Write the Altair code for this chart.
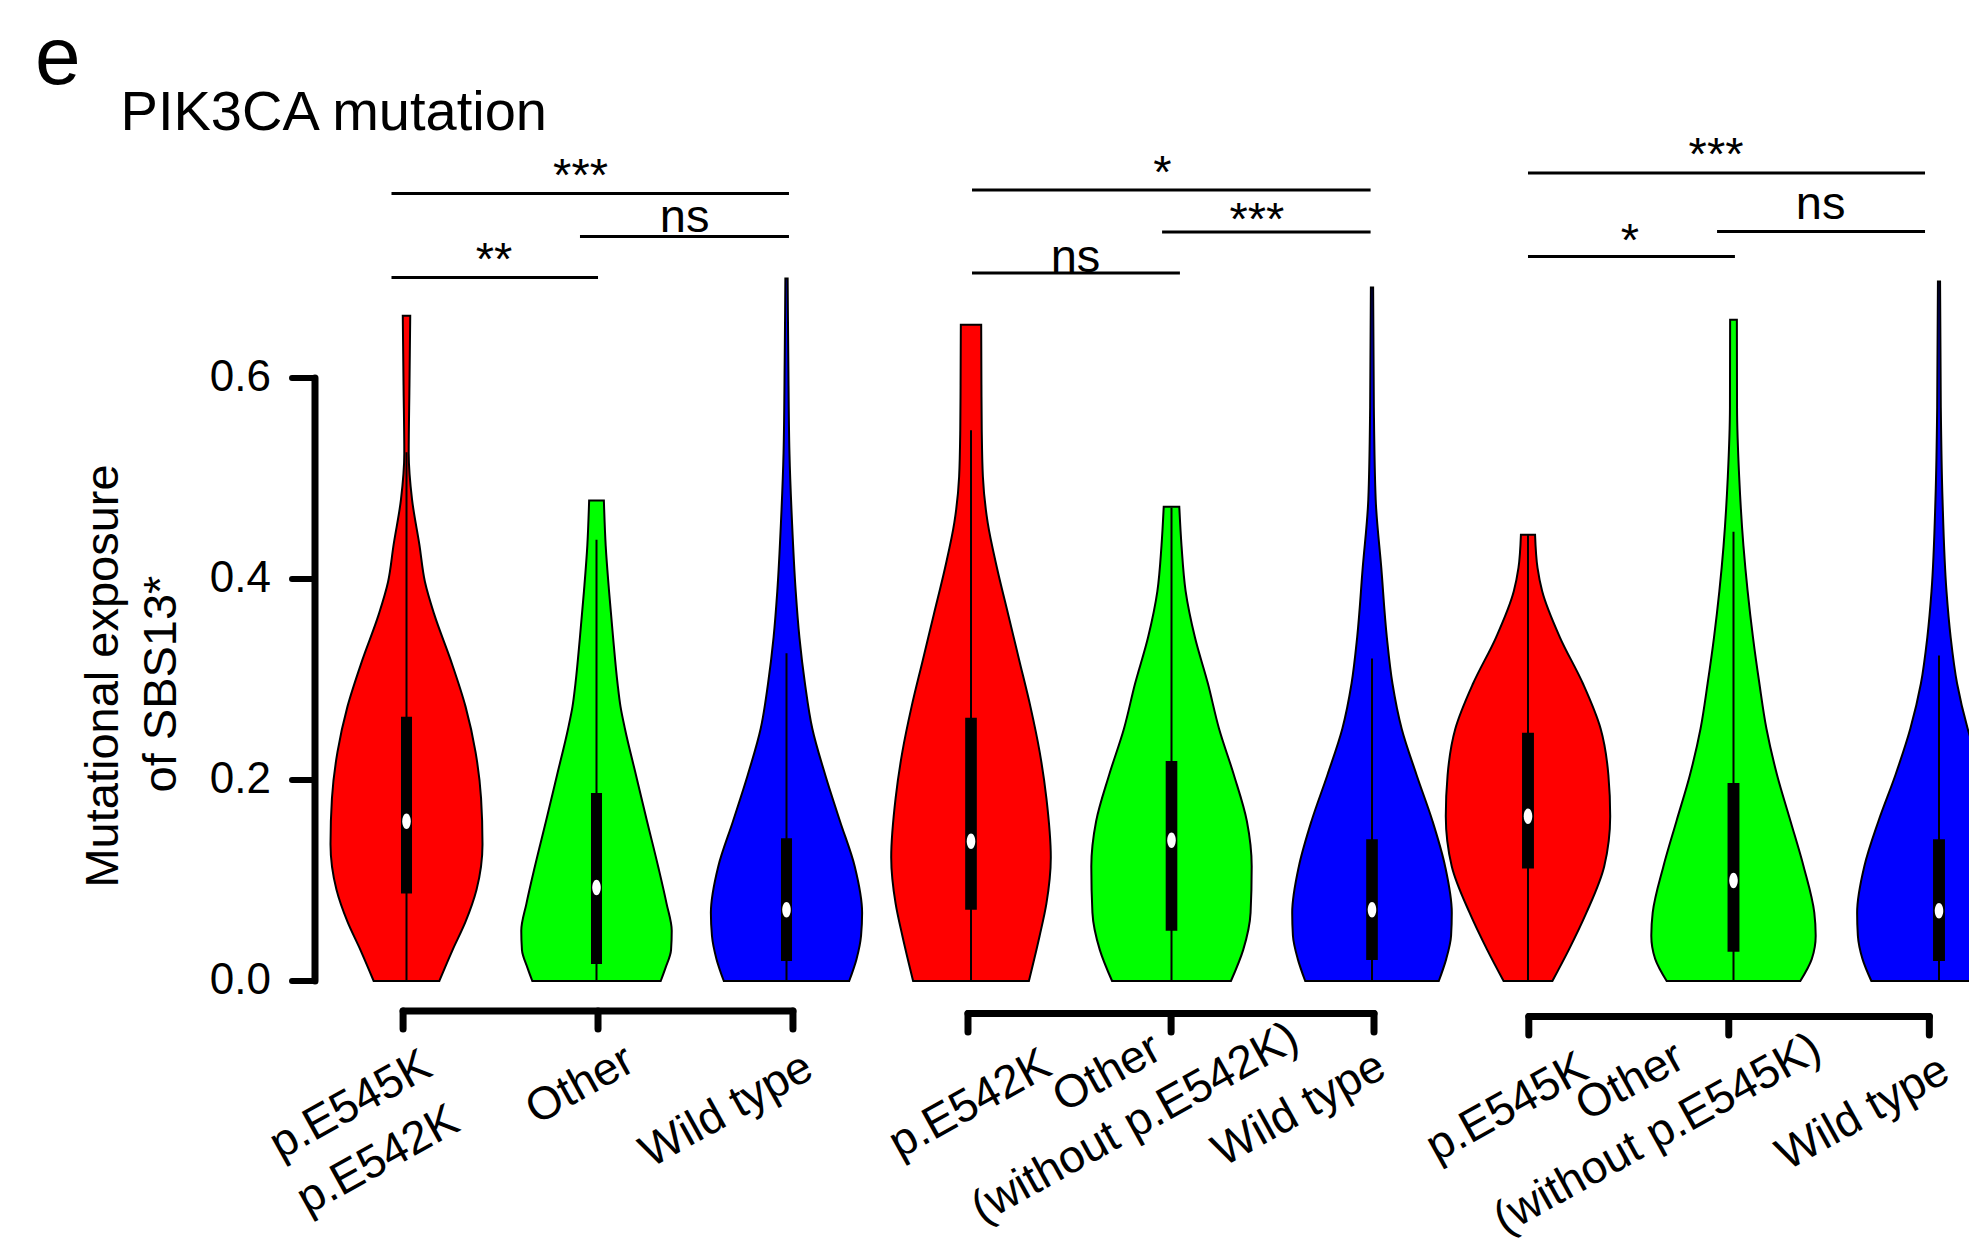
import altair as alt
import pandas as pd

FONT = "Liberation Sans"

# ------------------------------------------------------------------
# Data
# ------------------------------------------------------------------
PANEL_LETTER = "e"
TITLE = "PIK3CA mutation"
Y_TITLE = ["Mutational exposure", "of SBS13*"]
Y_TICKS = [0.0, 0.2, 0.4, 0.6]
GROUP_COLORS = ["#ff0000", "#00ff00", "#0000ff"]

CATEGORY_LINES = [
    [["p.E545K", "p.E542K"], ["Other"], ["Wild type"]],
    [["p.E542K"], ["Other", "(without p.E542K)"], ["Wild type"]],
    [["p.E545K"], ["Other", "(without p.E545K)"], ["Wild type"]],
]

# violin outlines: exposure values and relative half widths
P1_RED_Y = [0.000, 0.031, 0.059, 0.091, 0.136, 0.182, 0.228, 0.273, 0.319, 0.365, 0.397, 0.434, 0.479, 0.525, 0.593, 0.662]
P1_RED_W = [0.432, 0.607, 0.777, 0.922, 1.000, 0.981, 0.908, 0.777, 0.583, 0.364, 0.243, 0.170, 0.073, 0.029, 0.039, 0.049]
P1_GREEN_Y = [0.000, 0.013, 0.031, 0.050, 0.077, 0.114, 0.159, 0.205, 0.251, 0.273, 0.296, 0.342, 0.388, 0.433, 0.478]
P1_GREEN_W = [0.845, 0.908, 0.981, 0.990, 0.922, 0.811, 0.665, 0.519, 0.374, 0.316, 0.277, 0.218, 0.165, 0.121, 0.097]
P1_BLUE_Y = [0.000, 0.022, 0.045, 0.068, 0.114, 0.159, 0.205, 0.251, 0.296, 0.342, 0.388, 0.456, 0.525, 0.616, 0.699]
P1_BLUE_W = [0.825, 0.922, 0.981, 0.995, 0.898, 0.704, 0.510, 0.340, 0.243, 0.170, 0.121, 0.073, 0.039, 0.024, 0.015]

P2_RED_Y = [0.000, 0.045, 0.077, 0.123, 0.182, 0.228, 0.273, 0.319, 0.365, 0.411, 0.456, 0.502, 0.548, 0.593, 0.653]
P2_RED_W = [0.722, 0.856, 0.940, 0.995, 0.940, 0.856, 0.741, 0.602, 0.463, 0.324, 0.208, 0.148, 0.134, 0.130, 0.127]
P2_GREEN_Y = [0.000, 0.031, 0.068, 0.114, 0.159, 0.205, 0.251, 0.296, 0.342, 0.388, 0.433, 0.472]
P2_GREEN_W = [0.741, 0.894, 0.986, 1.000, 0.940, 0.778, 0.593, 0.454, 0.292, 0.176, 0.125, 0.097]
P2_BLUE_Y = [0.000, 0.022, 0.045, 0.068, 0.114, 0.159, 0.205, 0.251, 0.296, 0.342, 0.411, 0.479, 0.571, 0.690]
P2_BLUE_W = [0.833, 0.926, 0.986, 0.995, 0.912, 0.755, 0.556, 0.370, 0.255, 0.185, 0.116, 0.046, 0.023, 0.014]

P3_RED_Y = [0.000, 0.031, 0.068, 0.114, 0.164, 0.205, 0.251, 0.296, 0.342, 0.388, 0.411, 0.444]
P3_RED_W = [0.297, 0.496, 0.711, 0.927, 1.000, 0.978, 0.884, 0.668, 0.388, 0.172, 0.116, 0.086]
P3_GREEN_Y = [0.000, 0.022, 0.045, 0.068, 0.114, 0.159, 0.205, 0.251, 0.296, 0.342, 0.388, 0.433, 0.502, 0.571, 0.658]
P3_GREEN_W = [0.813, 0.953, 1.000, 0.983, 0.853, 0.694, 0.530, 0.401, 0.315, 0.237, 0.172, 0.121, 0.069, 0.043, 0.041]
P3_BLUE_Y = [0.000, 0.022, 0.045, 0.068, 0.114, 0.159, 0.205, 0.251, 0.296, 0.342, 0.388, 0.479, 0.571, 0.696]
P3_BLUE_W = [0.823, 0.931, 0.987, 0.996, 0.909, 0.737, 0.530, 0.349, 0.220, 0.142, 0.091, 0.043, 0.022, 0.013]

PROFILES = [
    [(P1_RED_Y, P1_RED_W), (P1_GREEN_Y, P1_GREEN_W), (P1_BLUE_Y, P1_BLUE_W)],
    [(P2_RED_Y, P2_RED_W), (P2_GREEN_Y, P2_GREEN_W), (P2_BLUE_Y, P2_BLUE_W)],
    [(P3_RED_Y, P3_RED_W), (P3_GREEN_Y, P3_GREEN_W), (P3_BLUE_Y, P3_BLUE_W)],
]

# box plot statistics (red, green, blue) per panel
Q1 = [[0.087, 0.017, 0.020], [0.071, 0.050, 0.021], [0.112, 0.029, 0.020]]
MEDIAN = [[0.159, 0.093, 0.071], [0.139, 0.140, 0.071], [0.164, 0.100, 0.070]]
Q3 = [[0.263, 0.187, 0.142], [0.262, 0.219, 0.141], [0.247, 0.197, 0.141]]
WHISKER_HI = [[0.526, 0.439, 0.326], [0.548, 0.471, 0.321], [0.444, 0.447, 0.324]]

# significance labels of the comparisons (1-3, 2-3, 1-2)
SIG_LABELS = [["***", "ns", "**"], ["*", "***", "ns"], ["***", "ns", "*"]]

# ------------------------------------------------------------------
# Layout (data-space positions of annotations, sizes, styles)
# ------------------------------------------------------------------
PANEL_W = [872, 540, 549]
PANEL_H = 1236
XDOM = [[-1.0974, 3.4921], [0.5461, 3.2394], [0.4745, 3.1460]]
YDOM = [-0.2617, 0.96816]
VIOLIN_HALF = 0.40
BOX_HALF = 0.029
VIOLIN_CLIP = [False, False, True]

SIG_LINE_X = [
    [(0.921, 3.013), (1.913, 3.013), (0.921, 2.008)],
    [(1.005, 2.993), (1.953, 2.993), (1.005, 2.042)],
    [(1.000, 2.932), (1.920, 2.932), (1.000, 2.007)],
]
SIG_LINE_Y = [[0.7836, 0.7408, 0.7000], [0.7871, 0.7453, 0.7045], [0.8040, 0.7458, 0.7209]]
SIG_TEXT_X = [[1.916, 2.464, 1.461], [1.955, 2.426, 1.521], [1.915, 2.424, 1.496]]
SIG_TEXT_Y = [[0.7860, 0.7453, 0.7025], [0.7895, 0.7422, 0.7055], [0.8070, 0.7582, 0.7210]]

BRACKET_X = [[0.982, 2.008, 3.034], [0.985, 1.998, 3.010], [1.004, 1.977, 2.953]]
BRACKET_Y = [(-0.0299, -0.0478), (-0.0323, -0.0507), (-0.0353, -0.0537)]

LABEL_POS = [
    [[(0.7053, -0.1234), (0.850, -0.1781)], [(1.913, -0.1035)], [(2.684, -0.1284)]],
    [[(0.995, -0.1224)], [(1.678, -0.0915), (1.818, -0.1413)], [(2.636, -0.1274)]],
    [[(0.898, -0.1259)], [(1.496, -0.1002), (1.630, -0.1520)], [(2.630, -0.1313)]],
]

AXIS_X = 0.5184
AXIS_TICK_END = 0.3974
AXIS_LABEL_X = 0.2868
AXIS_TITLE_POS = [(-0.5168, 0.3035), (-0.2116, 0.2955)]
TITLE_POS = (-0.505, 0.8468)
LETTER_POS = (-0.955, 0.8925)
LETTER_SIZE = 82

ELLIPSE = ("M0,-1C0.304,-1,0.55,-0.552,0.55,0C0.55,0.552,0.304,1,0,1"
           "C-0.304,1,-0.55,0.552,-0.55,0C-0.55,-0.552,-0.304,-1,0,-1Z")


def xq(field, p):
    return alt.X(f"{field}:Q", scale=alt.Scale(domain=XDOM[p], nice=False, zero=False), axis=None)


def yq(field):
    return alt.Y(f"{field}:Q", scale=alt.Scale(domain=YDOM, nice=False, zero=False), axis=None)


def panel(p):
    layers = []

    # violins
    rows = []
    for c, (ys, ws) in enumerate(PROFILES[p]):
        for v, w in zip(ys, ws):
            rows.append({"vid": c, "v": v,
                         "xlo": c + 1 - VIOLIN_HALF * w, "xhi": c + 1 + VIOLIN_HALF * w,
                         "fill": GROUP_COLORS[c]})
    layers.append(
        alt.Chart(pd.DataFrame(rows)).mark_area(
            orient="horizontal", interpolate="monotone", stroke="black",
            strokeWidth=2, clip=VIOLIN_CLIP[p], opacity=1
        ).encode(y=yq("v"), x=xq("xlo", p), x2=alt.X2("xhi"),
                 fill=alt.Fill("fill:N", scale=None), detail="vid:N")
    )

    stats = pd.DataFrame({
        "x": [1, 2, 3],
        "lo": [0.0, 0.0, 0.0],
        "hi": WHISKER_HI[p],
        "q1": Q1[p], "q3": Q3[p], "med": MEDIAN[p],
        "bx1": [c + 1 - BOX_HALF for c in range(3)],
        "bx2": [c + 1 + BOX_HALF for c in range(3)],
    })
    layers.append(alt.Chart(stats).mark_rule(color="black", strokeWidth=2)
                  .encode(x=xq("x", p), y=yq("lo"), y2=alt.Y2("hi")))
    layers.append(alt.Chart(stats).mark_rect(color="black")
                  .encode(x=xq("bx1", p), x2=alt.X2("bx2"), y=yq("q1"), y2=alt.Y2("q3")))
    layers.append(alt.Chart(stats).mark_point(shape=ELLIPSE, filled=True, color="white",
                                              size=240, opacity=1, strokeWidth=0)
                  .encode(x=xq("x", p), y=yq("med")))

    # bracket "axis" under the violins
    bx = BRACKET_X[p]
    by, bb = BRACKET_Y[p]
    layers.append(alt.Chart(pd.DataFrame({"xa": [bx[0]], "xb": [bx[2]], "y": [by]}))
                  .mark_rule(color="black", strokeWidth=7, strokeCap="round")
                  .encode(x=xq("xa", p), x2=alt.X2("xb"), y=yq("y")))
    layers.append(alt.Chart(pd.DataFrame({"x": bx, "ya": [by] * 3, "yb": [bb] * 3}))
                  .mark_rule(color="black", strokeWidth=7, strokeCap="round")
                  .encode(x=xq("x", p), y=yq("ya"), y2=alt.Y2("yb")))

    # significance annotations
    sig = pd.DataFrame({
        "xa": [a for a, b in SIG_LINE_X[p]],
        "xb": [b for a, b in SIG_LINE_X[p]],
        "ly": SIG_LINE_Y[p],
        "tx": SIG_TEXT_X[p],
        "ty": SIG_TEXT_Y[p],
        "t": SIG_LABELS[p],
    })
    layers.append(alt.Chart(sig).mark_rule(color="black", strokeWidth=3)
                  .encode(x=xq("xa", p), x2=alt.X2("xb"), y=yq("ly")))
    layers.append(alt.Chart(sig).mark_text(font=FONT, fontSize=47, align="center",
                                           baseline="alphabetic", color="black")
                  .encode(x=xq("tx", p), y=yq("ty"), text="t:N"))

    # category labels (rotated)
    lab = []
    for c, lines in enumerate(CATEGORY_LINES[p]):
        for k, line in enumerate(lines):
            x, y = LABEL_POS[p][c][k]
            lab.append({"x": x, "y": y, "t": line})
    layers.append(alt.Chart(pd.DataFrame(lab)).mark_text(
        font=FONT, fontSize=46, angle=331, align="center", baseline="middle",
        color="black").encode(x=xq("x", p), y=yq("y"), text="t:N"))

    if p == 0:
        ax = pd.DataFrame({"x": [AXIS_X], "lo": [min(Y_TICKS)], "hi": [max(Y_TICKS)]})
        layers.append(alt.Chart(ax).mark_rule(color="black", strokeWidth=7, strokeCap="round")
                      .encode(x=xq("x", p), y=yq("lo"), y2=alt.Y2("hi")))
        ticks = pd.DataFrame({"xa": [AXIS_X] * len(Y_TICKS), "xb": [AXIS_TICK_END] * len(Y_TICKS),
                              "lx": [AXIS_LABEL_X] * len(Y_TICKS), "y": Y_TICKS,
                              "t": [f"{t:.1f}" for t in Y_TICKS]})
        layers.append(alt.Chart(ticks).mark_rule(color="black", strokeWidth=6, strokeCap="round")
                      .encode(x=xq("xa", p), x2=alt.X2("xb"), y=yq("y")))
        layers.append(alt.Chart(ticks).mark_text(font=FONT, fontSize=44, align="right",
                                                 baseline="middle", color="black")
                      .encode(x=xq("lx", p), y=yq("y"), text="t:N"))
        ttl = pd.DataFrame({"x": [a for a, b in AXIS_TITLE_POS],
                            "y": [b for a, b in AXIS_TITLE_POS], "t": Y_TITLE})
        layers.append(alt.Chart(ttl).mark_text(font=FONT, fontSize=47, angle=270, align="center",
                                               baseline="alphabetic", color="black")
                      .encode(x=xq("x", p), y=yq("y"), text="t:N"))
        layers.append(alt.Chart(pd.DataFrame({"x": [TITLE_POS[0]], "y": [TITLE_POS[1]], "t": [TITLE]}))
                      .mark_text(font=FONT, fontSize=56, align="left", baseline="alphabetic",
                                 color="black")
                      .encode(x=xq("x", p), y=yq("y"), text="t:N"))
        layers.append(alt.Chart(pd.DataFrame({"x": [LETTER_POS[0]], "y": [LETTER_POS[1]], "t": [PANEL_LETTER]}))
                      .mark_text(font=FONT, fontSize=LETTER_SIZE, align="left", baseline="alphabetic",
                                 color="black")
                      .encode(x=xq("x", p), y=yq("y"), text="t:N"))

    return alt.layer(*layers).properties(width=PANEL_W[p], height=PANEL_H)


chart = alt.hconcat(panel(0), panel(1), panel(2), spacing=0, bounds="flush").properties(
    padding=0, background="white"
).configure_view(strokeWidth=0)

chart.save("out.html", embed_options={"renderer": "svg", "actions": False})
